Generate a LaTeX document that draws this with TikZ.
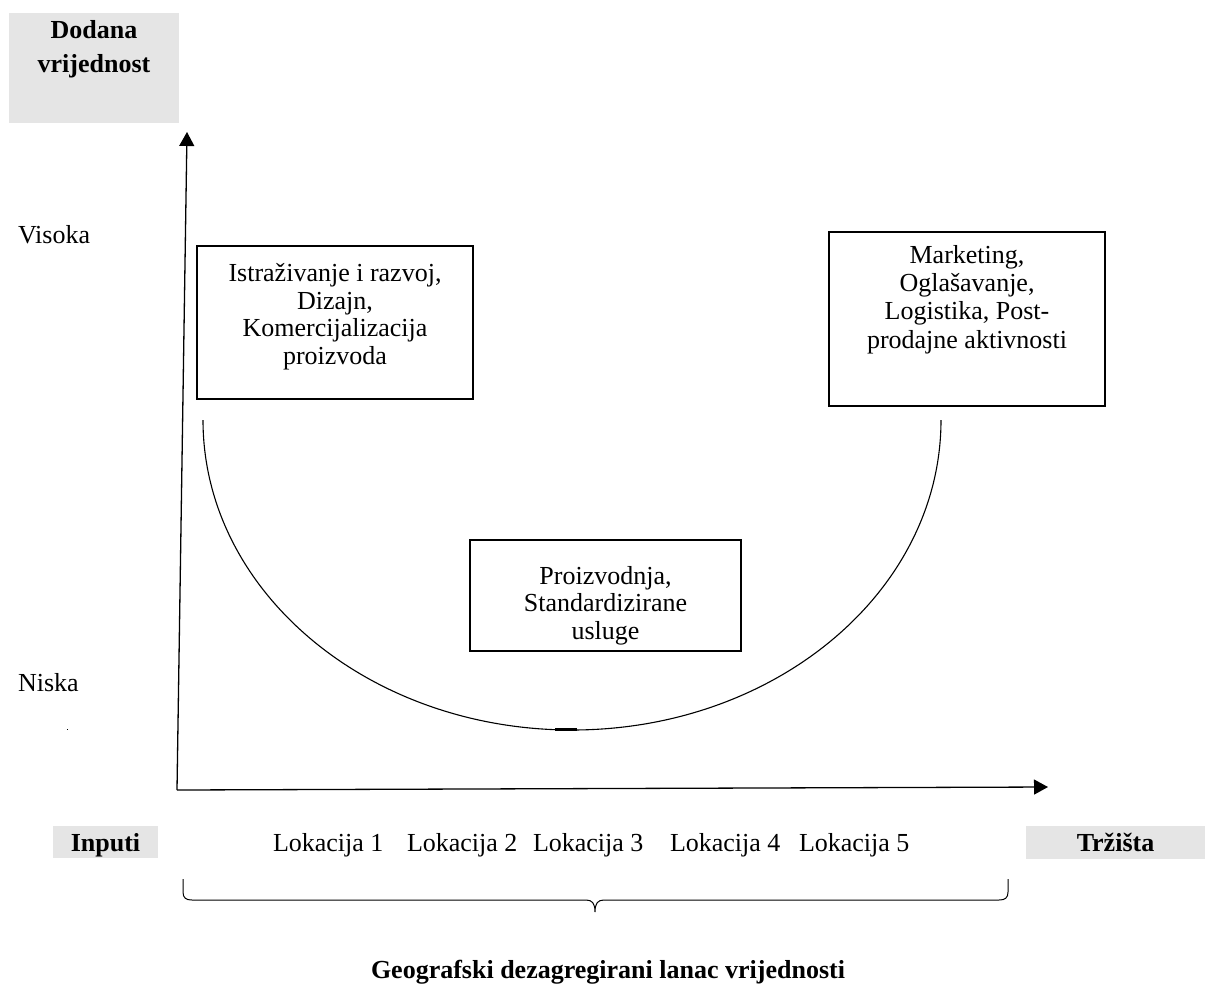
\documentclass[tikz,border=0pt]{standalone}
\usepackage{fontspec}
\setmainfont{Liberation Serif}
\usetikzlibrary{arrows.meta}
\begin{document}
\begin{tikzpicture}[x=1pt,y=-1pt,
  every node/.style={inner sep=0pt, outer sep=0pt},
  normal/.style={font=\fontsize{26}{27.5}\selectfont},
  boldtxt/.style={font=\bfseries\fontsize{26}{34}\selectfont},
  box/.style={draw, line width=1.2pt},
  txt/.style={normal, align=center, anchor=base},
  greybox/.style={fill=black!10},
  axis/.style={line width=1.3pt, -{Triangle[width=15pt,length=14pt]}},
  curve/.style={line width=1.1pt},
]
\useasboundingbox (0,0) rectangle (1207,986);
% value axis label (anchor base = baseline of last line)
\node[greybox, minimum width=170pt, minimum height=110pt] (dv) at (94,68) {};
\node[boldtxt, align=center, anchor=base] (dvt) at (94,72) {Dodana\\vrijednost};
% axes
\coordinate (O) at (177,790);
\coordinate (ytop) at (187,132);
\coordinate (xend) at (1048,787);
\draw[axis] (O) -- (ytop);
\draw[axis] (O) -- (xend);
% level labels
\node[normal, anchor=base west] (vis) at (18,243) {Visoka};
\node[normal, anchor=base west] (nis) at (18,691) {Niska};
\fill (66.5,728.5) rectangle (67.5,729.5);
% boxes
\node[box, minimum width=276pt, minimum height=153pt] (rd) at (335,322.5) {};
\node[txt] (rdt) at (rd.center |- 0,364) {Istraživanje i razvoj,\\Dizajn,\\Komercijalizacija\\proizvoda};
\node[box, minimum width=276pt, minimum height=174pt] (mk) at (967,319) {};
\node[txt, font=\fontsize{26}{28.2}\selectfont] (mkt) at (mk.center |- 0,348) {Marketing,\\Oglašavanje,\\Logistika, Post-\\prodajne aktivnosti};
\node[box, minimum width=271pt, minimum height=111pt] (pr) at (605.5,595.5) {};
\node[txt] (prt) at (pr.center |- 0,639) {Proizvodnja,\\Standardizirane\\usluge};
% smile curve
\coordinate (cl) at (203,420);
\draw[curve] (cl) arc[start angle=180, end angle=360, x radius=369pt, y radius=310pt];
\draw[line width=2.2pt] (555,729.5) -- (577,729.5);
% bottom labels
\node[greybox, minimum width=105pt, minimum height=32pt] (in) at (105.5,842) {};
\node[boldtxt, anchor=base] (int) at (105.5,851) {Inputi};
\node[greybox, minimum width=179pt, minimum height=33pt] (tr) at (1115.5,842.5) {};
\node[boldtxt, anchor=base] (trt) at (1115.5,851) {Tržišta};
\node[normal, anchor=base west] (l1) at (273,851) {Lokacija 1};
\node[normal, anchor=base west] (l2) at (407,851) {Lokacija 2};
\node[normal, anchor=base west] (l3) at (533,851) {Lokacija 3};
\node[normal, anchor=base west] (l4) at (670,851) {Lokacija 4};
\node[normal, anchor=base west] (l5) at (799,851) {Lokacija 5};
% brace
\draw[line width=1pt] (183,879) -- (183,892) .. controls (183,898) and (186,900) .. (192,900)
  -- (586,900) .. controls (592,900) and (595,903) .. (595,912)
  .. controls (595,903) and (598,900) .. (604,900)
  -- (999,900) .. controls (1005,900) and (1008,898) .. (1008,892) -- (1008,879);
\node[boldtxt, anchor=base] (geo) at (608,978) {Geografski dezagregirani lanac vrijednosti};
\end{tikzpicture}
\end{document}
